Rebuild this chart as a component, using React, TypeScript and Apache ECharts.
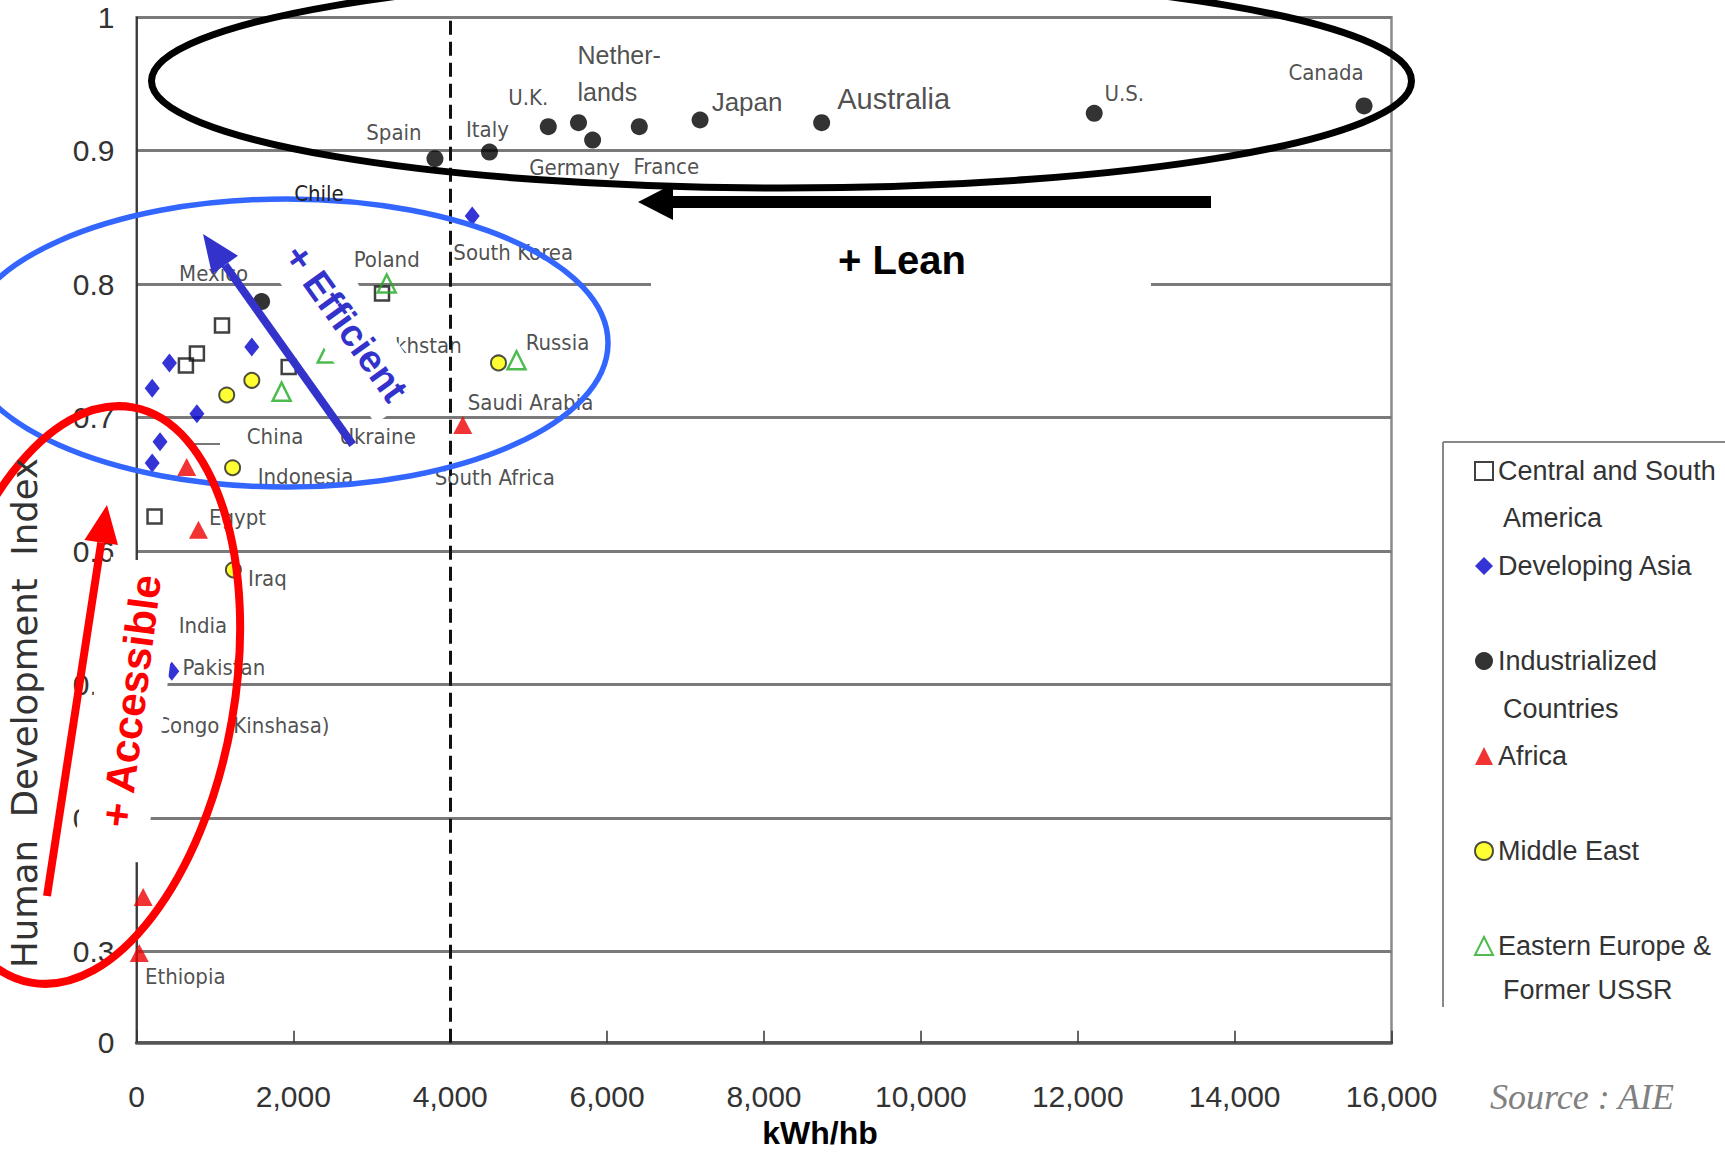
import React, { useEffect, useRef } from 'react';
import * as echarts from 'echarts';

// ---------- data (kWh per inhabitant, Human Development Index) ----------
type Pt = [string, number, number];

const X_MAX = 16000;
const X_STEP = 2000;
const THRESHOLD_KWH = 4000;
const Y_BOTTOM = 0.2318; // bottom of the (compressed) value axis, labelled "0"

const centralSouthAmerica: Pt[] = [
  ['', 1090, 0.769], ['', 770, 0.748], ['', 630, 0.739], ['', 1940, 0.738], ['', 3130, 0.793], ['', 230, 0.626],
];
const developingAsia: Pt[] = [
  ['', 420, 0.741], ['', 1470, 0.753], ['', 200, 0.722], ['', 770, 0.703], ['China', 300, 0.682],
  ['', 200, 0.666], ['South Korea', 4280, 0.851], ['Pakistan', 450, 0.51], ['India', 375, 0.543],
];
const industrialized: Pt[] = [
  ['Spain', 3805, 0.894], ['Italy', 4500, 0.899], ['U.K.', 5250, 0.918], ['Netherlands', 5635, 0.921],
  ['Germany', 5815, 0.908], ['France', 6410, 0.918], ['Japan', 7185, 0.923], ['Australia', 8735, 0.921],
  ['U.S.', 12210, 0.928], ['Canada', 15650, 0.9335], ['Mexico', 1595, 0.787],
];
const africa: Pt[] = [
  ['South Africa', 4160, 0.6945], ['', 640, 0.663], ['Egypt', 790, 0.616], ['', 85, 0.341],
  ['Ethiopia', 35, 0.299], ['Congo (Kinshasa)', 145, 0.468],
];
const middleEast: Pt[] = [
  ['Saudi Arabia', 4615, 0.741], ['', 1470, 0.728], ['', 1150, 0.717], ['Indonesia', 1225, 0.6625], ['Iraq', 1235, 0.586],
];
const easternEurope: Pt[] = [
  ['Poland', 3190, 0.8005], ['Kazakhstan', 2425, 0.748], ['Ukraine', 1850, 0.7195], ['Russia', 4845, 0.743],
];

const SERIES_NAMES = [
  'Central and South America', 'Developing Asia', 'Industrialized Countries',
  'Africa', 'Middle East', 'Eastern Europe & Former USSR',
];

// ---------- layout / style ----------
const NARROW = "'Liberation Sans Narrow', 'Arial Narrow', 'DejaVu Sans Condensed', 'Liberation Sans', Arial, sans-serif";
const SANS = "'Liberation Sans', Arial, sans-serif";

type LabelSpec = { dx: number; dy: number; align?: string; text?: string; size?: number; family?: string; lineHeight?: number };
const LABELS: Record<string, LabelSpec> = {
  Spain: { dx: -41, dy: -26 },
  Italy: { dx: -2, dy: -23 },
  'U.K.': { dx: -20, dy: -29 },
  Netherlands: { dx: -1, dy: -49, align: 'left', text: 'Nether-\nlands', size: 25, family: SANS, lineHeight: 37 },
  Germany: { dx: -18, dy: 27 },
  France: { dx: 27, dy: 40 },
  Japan: { dx: 47, dy: -18, size: 26, family: SANS },
  Australia: { dx: 72, dy: -24, size: 29, family: SANS },
  'U.S.': { dx: 30, dy: -20 },
  Canada: { dx: -38, dy: -33 },
  Mexico: { dx: -48, dy: -28 },
  Poland: { dx: 0, dy: -24 },
  'South Korea': { dx: 41, dy: 36 },
  Kazakhstan: { dx: 135, dy: -8, align: 'right' },
  Russia: { dx: 41, dy: -18 },
  'Saudi Arabia': { dx: 32, dy: 40 },
  'South Africa': { dx: 32, dy: 52 },
  China: { dx: 115, dy: -5 },
  Ukraine: { dx: 96, dy: 45 },
  Indonesia: { dx: 73, dy: 9 },
  Egypt: { dx: 39, dy: -12 },
  Iraq: { dx: 34, dy: 9 },
  India: { dx: 37, dy: -2 },
  Pakistan: { dx: 52, dy: -4 },
  'Congo (Kinshasa)': { dx: 95, dy: -2 },
  Ethiopia: { dx: 46, dy: 24 },
};

const LEGEND_FIRST_LINE: Record<string, string> = {
  'Central and South America': 'Central and South',
  'Industrialized Countries': 'Industrialized',
  'Eastern Europe & Former USSR': 'Eastern Europe &',
};

function toData(points: Pt[]) {
  return points.map(([name, x, y]) => {
    const spec = LABELS[name];
    const item: any = { name, value: [x, y] };
    if (spec) {
      item.label = {
        show: true,
        position: ['50%', '50%'],
        offset: [spec.dx, spec.dy],
        align: spec.align ?? 'center',
        verticalAlign: 'middle',
        formatter: spec.text ?? name,
        fontSize: spec.size ?? 22,
        fontFamily: spec.family ?? NARROW,
        color: '#222',
        lineHeight: spec.lineHeight ?? 26,
      };
    }
    return item;
  });
}

function fmtThousands(v: number) {
  return String(Math.round(v)).replace(/\B(?=(\d{3})+(?!\d))/g, ',');
}

export default function App() {
  const ref = useRef<HTMLDivElement>(null);
  useEffect(() => {
    if (!ref.current) return;
    const chart = echarts.init(ref.current, undefined, { renderer: 'svg' });
    const hollow = 'rgba(255,255,255,0)';
    const base = { type: 'scatter', silent: true, label: { show: false }, z: 3 };
    const option: any = {
      animation: false,
      backgroundColor: '#fff',
      grid: {
        left: 136.5, right: 333.5, top: 17.2, bottom: 110.3,
        show: true, borderColor: '#8a8a8a', borderWidth: 2.5,
        containLabel: false, outerBoundsMode: 'none',
      },
      xAxis: {
        type: 'value', min: 0, max: X_MAX, interval: X_STEP,
        axisLine: { show: true, onZero: false, lineStyle: { color: '#555', width: 3.5 } },
        axisTick: { show: true, inside: true, length: 12, lineStyle: { color: '#333', width: 1.5 } },
        splitLine: { show: false },
        axisLabel: { formatter: fmtThousands, fontSize: 30, margin: 39, color: '#333', fontFamily: SANS },
        name: 'kWh/hb', nameLocation: 'middle', nameGap: 73,
        nameTextStyle: { fontWeight: 'bold', fontSize: 32, color: '#000', fontFamily: SANS, padding: [0, 0, 0, 112] },
      },
      yAxis: {
        type: 'value', min: Y_BOTTOM, max: 1, splitNumber: 8, minInterval: 0.1, maxInterval: 0.1,
        axisLine: { show: true, lineStyle: { color: '#222', width: 1.5 } },
        axisTick: { show: false },
        splitLine: { show: true, lineStyle: { color: '#7a7a7a', width: 3 } },
        axisLabel: {
          formatter: (v: number) => (v < 0.25 ? '0' : v > 0.999 ? '1' : v.toFixed(1)),
          fontSize: 30, margin: 22, color: '#333', fontFamily: SANS,
        },
      },
      legend: {
        orient: 'vertical', left: 1474, top: 456, itemGap: 65, itemWidth: 18, itemHeight: 18,
        padding: 0, selectedMode: false, data: SERIES_NAMES,
        formatter: (n: string) => LEGEND_FIRST_LINE[n] ?? n,
        textStyle: { fontSize: 27, color: '#333', fontFamily: SANS, lineHeight: 30 },
      },
      series: [
        {
          ...base, name: SERIES_NAMES[0], symbol: 'rect', symbolSize: 14,
          itemStyle: { color: hollow, borderColor: '#111', borderWidth: 2.5 },
          data: toData(centralSouthAmerica),
          markLine: {
            silent: true, symbol: 'none', label: { show: false },
            lineStyle: { color: '#111', width: 3, type: [14, 7] },
            data: [{ xAxis: THRESHOLD_KWH }],
          },
        },
        {
          ...base, name: SERIES_NAMES[1], symbol: 'diamond', symbolSize: [15, 19],
          itemStyle: { color: '#0000cc' }, data: toData(developingAsia),
        },
        {
          ...base, name: SERIES_NAMES[2], symbol: 'circle', symbolSize: 17,
          itemStyle: { color: '#000' }, data: toData(industrialized),
        },
        {
          ...base, name: SERIES_NAMES[3], symbol: 'triangle', symbolSize: [19, 18],
          itemStyle: { color: '#ee0000' }, data: toData(africa),
        },
        {
          ...base, name: SERIES_NAMES[4], symbol: 'circle', symbolSize: 15,
          itemStyle: { color: '#ffff00', borderColor: '#222', borderWidth: 2 }, data: toData(middleEast),
        },
        {
          ...base, name: SERIES_NAMES[5], symbol: 'triangle', symbolSize: [18, 18],
          itemStyle: { color: hollow, borderColor: '#22aa22', borderWidth: 2.5 }, data: toData(easternEurope),
        },
      ],
      graphic: [
        // white label boxes
        { type: 'rect', z: 100, shape: { x: 651, y: 222, width: 500, height: 78 }, style: { fill: '#fff' } },
        { type: 'rect', z: 100, x: 344.1, y: 320.5, rotation: -0.977, shape: { x: -103, y: -32, width: 206, height: 64 }, style: { fill: '#fff' } },
        { type: 'rect', z: 100, x: 128, y: 710, rotation: 1.445, shape: { x: -150, y: -36, width: 300, height: 72 }, style: { fill: '#fff' } },
        // ellipses
        { type: 'ellipse', z: 101, shape: { cx: 781.5, cy: 81, rx: 630, ry: 107 }, style: { fill: 'none', stroke: '#000', lineWidth: 7 } },
        { type: 'ellipse', z: 101, shape: { cx: 286, cy: 343, rx: 322, ry: 144 }, style: { fill: 'none', stroke: '#3366ff', lineWidth: 5.5 } },
        { type: 'ellipse', z: 101, x: 82, y: 695, rotation: -0.1745, shape: { cx: 0, cy: 0, rx: 152, ry: 292 }, style: { fill: 'none', stroke: '#ff0000', lineWidth: 8 } },
        // arrows
        { type: 'rect', z: 102, shape: { x: 670, y: 196, width: 541, height: 12 }, style: { fill: '#000' } },
        { type: 'polygon', z: 102, shape: { points: [[638, 202], [673, 184], [673, 220]] }, style: { fill: '#000' } },
        { type: 'line', z: 102, shape: { x1: 352.7, y1: 444.6, x2: 225, y2: 265 }, style: { stroke: '#3333cc', lineWidth: 8 } },
        { type: 'polygon', z: 102, shape: { points: [[203, 234], [238, 255.7], [212, 274.3]] }, style: { fill: '#3333cc' } },
        { type: 'line', z: 102, shape: { x1: 47, y1: 896, x2: 101.2, y2: 542.5 }, style: { stroke: '#ff0000', lineWidth: 8 } },
        { type: 'polygon', z: 102, shape: { points: [[107, 505], [118, 545.1], [84.4, 539.9]] }, style: { fill: '#ff0000' } },
        // annotation texts
        { type: 'text', z: 103, x: 902, y: 260, style: { text: '+ Lean', fontSize: 40, fontWeight: 'bold', fontFamily: SANS, fill: '#000', align: 'center', verticalAlign: 'middle' } },
        { type: 'text', z: 103, x: 346, y: 323, rotation: -0.95, style: { text: '+ Efficient', fontSize: 38, fontWeight: 'bold', fontFamily: SANS, fill: '#3333cc', align: 'center', verticalAlign: 'middle' } },
        { type: 'text', z: 103, x: 131, y: 701, rotation: 1.445, style: { text: '+ Accessible', fontSize: 42, fontWeight: 'bold', fontFamily: SANS, fill: '#ff0000', align: 'center', verticalAlign: 'middle' } },
        { type: 'text', z: 103, x: 319, y: 193, style: { text: 'Chile', fontSize: 22, fontFamily: NARROW, fill: '#222', align: 'center', verticalAlign: 'middle' } },
        { type: 'line', z: 99, shape: { x1: 192, y1: 444, x2: 220, y2: 444 }, style: { stroke: '#777', lineWidth: 2 } },
        // y axis title
        { type: 'text', z: 103, x: 24.5, y: 713, rotation: Math.PI / 2, style: { text: 'Human\u00a0\u00a0Development\u00a0\u00a0Index', fontSize: 35.5, fontFamily: "'DejaVu Sans', Verdana, sans-serif", fill: '#333', align: 'center', verticalAlign: 'middle' } },
        // legend frame and second lines
        { type: 'line', z: 99, shape: { x1: 1443, y1: 442, x2: 1725, y2: 442 }, style: { stroke: '#888', lineWidth: 2 } },
        { type: 'line', z: 99, shape: { x1: 1443, y1: 442, x2: 1443, y2: 1007 }, style: { stroke: '#888', lineWidth: 2 } },
        { type: 'text', z: 103, x: 1503, y: 517.6, style: { text: 'America', fontSize: 27, fontFamily: SANS, fill: '#333', verticalAlign: 'middle' } },
        { type: 'text', z: 103, x: 1503, y: 709, style: { text: 'Countries', fontSize: 27, fontFamily: SANS, fill: '#333', verticalAlign: 'middle' } },
        { type: 'text', z: 103, x: 1503, y: 990, style: { text: 'Former USSR', fontSize: 27, fontFamily: SANS, fill: '#333', verticalAlign: 'middle' } },
        // source
        { type: 'text', z: 103, x: 1490, y: 1097, style: { text: 'Source : AIE', fontSize: 36, fontStyle: 'italic', fontFamily: "'Liberation Serif', 'Times New Roman', serif", fill: '#808080', verticalAlign: 'middle' } },
      ],
    };
    chart.setOption(option);
    return () => chart.dispose();
  }, []);
  return <div ref={ref} style={{ position: 'fixed', left: 0, top: 0, width: 1725, height: 1153 }} />;
}
